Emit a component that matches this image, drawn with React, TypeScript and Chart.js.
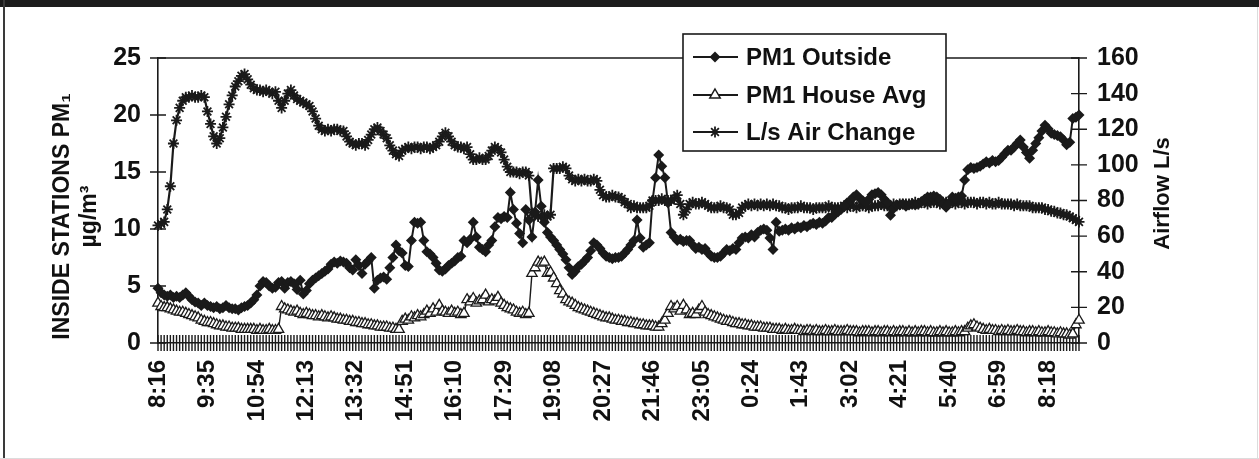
import React, { useEffect, useRef } from 'react';
import { Chart, registerables } from 'chart.js';

Chart.register(...registerables);

// ---- DATA ----
const timeLabels = ['8:16', '9:35', '10:54', '12:13', '13:32', '14:51', '16:10', '17:29', '19:08', '20:27', '21:46', '23:05', '0:24', '1:43', '3:02', '4:21', '5:40', '6:59', '8:18'];
const labelEvery = 16;

const leftTickValues = [0, 5, 10, 15, 20, 25];
const rightTickValues = [0, 20, 40, 60, 80, 100, 120, 140, 160];

// PM1 Outside (µg/m³) — left axis
const pm1Outside = [
  4.8, 4.4, 4.2, 4.1, 4.2, 4.0, 4.1, 4.0, 4.2, 4.4,
  4.1, 3.8, 3.6, 3.5, 3.3, 3.5, 3.3, 3.2, 3.1, 3.2,
  3.0, 3.1, 3.3, 3.1, 3.0, 3.0, 2.9, 3.1, 3.2, 3.3,
  3.5, 3.8, 4.2, 5.0, 5.4, 5.3, 5.0, 4.8, 4.9, 5.3,
  5.4, 4.8, 5.3, 5.4, 5.2, 4.7, 5.5, 4.3, 4.6, 5.2,
  5.5, 5.7, 5.9, 6.1, 6.3, 6.5, 6.9, 7.1, 7.0, 7.2,
  7.1, 7.0, 6.6, 6.4, 7.3, 6.8, 6.1, 6.9, 7.2, 7.5,
  4.8, 5.5, 5.7, 5.8, 5.6, 6.6, 7.5, 8.6, 8.1, 7.9,
  6.8, 6.7, 9.0, 10.6, 10.5, 10.6, 9.0, 8.0, 7.8, 7.5,
  7.0, 6.4, 6.3, 6.5, 6.8, 7.0, 7.2, 7.5, 7.6, 9.0,
  8.8, 9.1, 10.6, 9.3, 8.4, 8.2, 8.0, 8.6, 9.0, 10.2,
  11.0, 10.9, 11.1, 11.0, 13.2, 11.7, 10.5, 9.6, 8.8, 11.7,
  10.8, 9.3, 11.5, 14.3, 12.0, 10.6, 9.7, 9.3, 9.0, 8.6,
  8.2, 7.8, 7.3, 6.6, 6.0, 6.3, 6.7, 6.9, 7.2, 7.5,
  8.1, 8.8, 8.6, 8.3, 7.9, 7.6, 7.5, 7.4, 7.5, 7.5,
  7.6, 7.9, 8.2, 8.6, 9.0, 10.8, 9.2, 8.4, 8.6, 8.8,
  12.5, 14.5, 16.5, 15.5, 14.5, 12.3, 9.7, 9.3, 9.0, 9.1,
  8.9, 9.0, 9.0, 8.6, 8.3, 8.4, 8.2, 8.3, 7.9, 7.6,
  7.5, 7.5, 7.6, 7.9, 8.2, 8.1, 8.3, 8.2, 8.8, 9.2,
  9.3, 9.2, 9.5, 9.3, 9.7, 9.9, 10.0, 9.9, 9.2, 8.2,
  10.6, 9.8, 9.9, 10.0, 9.9, 10.1, 10.0, 10.2, 10.1, 10.3,
  10.2, 10.4, 10.5, 10.4, 10.6, 10.5, 10.7, 11.0, 11.0, 11.3,
  11.5, 11.7, 12.0, 12.3, 12.5, 12.8, 13.0, 12.7, 12.5, 12.3,
  12.6, 13.0, 13.1, 13.2, 13.0, 12.6, 12.3, 11.2, 11.8, 12.1,
  12.1, 12.2, 12.0, 12.1, 12.2, 12.1, 12.2, 12.4, 12.6, 12.8,
  12.8, 12.9, 12.8, 12.6, 12.2, 11.9, 12.3, 12.8, 12.7, 12.8,
  12.9, 14.3, 15.2, 15.4, 15.3, 15.4, 15.5, 15.7, 15.9, 15.8,
  16.0, 15.9, 16.0, 16.3, 16.6, 16.9, 16.9, 17.2, 17.5, 17.8,
  17.2, 16.7, 16.2, 16.9, 17.5, 18.0, 18.6, 19.1, 18.8, 18.4,
  18.3, 18.2, 18.1, 17.8, 17.4, 17.6, 19.7, 19.8, 20.0,
];

// PM1 House Avg (µg/m³) — left axis
const pm1HouseAvg = [
  3.5, 3.2, 3.1, 3.1, 3.0, 2.9, 2.8, 2.7, 2.7, 2.6,
  2.5, 2.4, 2.3, 2.2, 2.0, 1.9, 1.8, 1.8, 1.7, 1.6,
  1.5, 1.5, 1.4, 1.4, 1.3, 1.3, 1.3, 1.2, 1.2, 1.2,
  1.2, 1.2, 1.1, 1.2, 1.1, 1.1, 1.2, 1.1, 1.1, 1.2,
  3.2, 3.0, 2.9, 2.8, 2.7, 2.8, 2.6, 2.5, 2.6, 2.5,
  2.4, 2.4, 2.3, 2.4, 2.3, 2.2, 2.3, 2.2, 2.1, 2.1,
  2.0, 2.0, 1.9, 1.9, 1.8, 1.8, 1.7, 1.7, 1.6, 1.6,
  1.5, 1.5, 1.4, 1.4, 1.4, 1.3, 1.3, 1.2, 1.2, 1.9,
  2.1, 2.0, 2.3, 2.2, 2.4, 2.3, 2.5, 2.8, 2.6, 3.0,
  2.7, 3.3, 2.8, 2.7, 2.6, 2.8, 2.6, 2.7, 2.5, 2.6,
  3.8, 3.6, 3.9, 3.5, 3.7, 3.8, 4.2, 3.6, 3.8, 3.7,
  4.0, 3.5, 3.3, 3.1, 3.0, 2.9, 2.7, 2.6, 2.7, 2.5,
  2.6, 6.1, 6.6, 7.1, 7.0, 7.1, 6.1, 6.2, 5.7, 5.2,
  4.6, 4.3, 3.8, 3.6, 3.5, 3.3, 3.1, 3.0, 2.9, 2.8,
  2.7, 2.6, 2.5, 2.4, 2.3, 2.2, 2.2, 2.1, 2.0, 2.0,
  1.9, 1.9, 1.8, 1.8, 1.7, 1.7, 1.6, 1.6, 1.5, 1.5,
  1.5, 1.4, 1.4, 1.7, 2.0, 2.6, 3.2, 3.0, 3.2, 2.8,
  3.3, 2.9, 2.5, 2.6, 2.5, 2.9, 3.2, 2.7, 2.5, 2.4,
  2.3, 2.2, 2.1, 2.0, 1.9, 1.9, 1.8, 1.7, 1.7, 1.6,
  1.6, 1.5, 1.5, 1.4, 1.4, 1.4, 1.3, 1.3, 1.3, 1.2,
  1.2, 1.2, 1.1, 1.2, 1.1, 1.1, 1.2, 1.1, 1.1, 1.0,
  1.1, 1.1, 1.0, 1.1, 1.0, 1.0, 1.1, 1.0, 1.0, 1.1,
  1.0, 1.0, 1.0, 1.1, 1.0, 1.0, 1.0, 0.9, 1.0, 1.0,
  1.0, 0.9, 1.0, 1.0, 0.9, 1.0, 1.0, 0.9, 1.0, 0.9,
  1.0, 1.0, 0.9, 1.0, 0.9, 1.0, 0.9, 1.0, 1.0, 0.9,
  1.0, 0.9, 0.9, 1.0, 0.9, 1.0, 0.9, 0.9, 1.0, 0.9,
  1.0, 1.0, 1.3, 1.5, 1.6, 1.4, 1.3, 1.2, 1.1, 1.2,
  1.1, 1.1, 1.0, 1.1, 1.0, 1.1, 1.0, 1.0, 1.1, 1.0,
  1.0, 0.9, 1.0, 1.0, 0.9, 1.0, 0.9, 0.9, 1.0, 0.9,
  0.9, 0.8, 0.9, 0.8, 0.8, 0.7, 0.8, 1.6, 2.0,
];

// L/s Air Change — right axis
const airChange = [
  66, 67, 68, 75, 88, 112, 125, 132, 136, 138,
  138, 139, 138, 138, 139, 138, 130, 123, 116, 112,
  115, 121, 127, 134, 139, 144, 147, 150, 151, 148,
  145, 143, 142, 142, 141, 142, 141, 140, 141, 136,
  132, 136, 140, 142, 139, 137, 136, 135, 134, 133,
  130, 126, 122, 120, 119, 120, 119, 120, 120, 119,
  119, 116, 113, 112, 111, 112, 112, 111, 114, 117,
  120, 121, 119, 117, 115, 111, 108, 106, 105, 108,
  109, 110, 109, 110, 110, 109, 110, 110, 109, 110,
  111, 113, 116, 118, 116, 113, 111, 110, 110, 109,
  110, 106, 103, 103, 104, 103, 103, 105, 108, 110,
  109, 107, 103, 99, 96, 96, 96, 95, 96, 96,
  94, 73, 72, 71, 71, 72, 71, 72, 98, 98,
  98, 99, 98, 94, 92, 91, 92, 91, 92, 91,
  91, 92, 91, 86, 83, 82, 82, 83, 82, 82,
  81, 79, 78, 76, 77, 76, 76, 76, 76, 77,
  80, 80, 80, 81, 80, 80, 80, 81, 83, 78,
  72, 75, 78, 79, 78, 78, 79, 78, 77, 76,
  76, 76, 77, 76, 76, 75, 72, 72, 73, 76,
  77, 78, 77, 78, 77, 78, 77, 78, 77, 78,
  77, 77, 76, 76, 75, 76, 76, 76, 77, 76,
  76, 76, 75, 76, 76, 76, 76, 77, 76, 76,
  76, 76, 77, 76, 77, 77, 76, 77, 77, 77,
  76, 77, 77, 77, 78, 77, 77, 77, 78, 77,
  78, 78, 78, 78, 78, 79, 78, 79, 79, 78,
  79, 79, 79, 78, 79, 79, 79, 79, 78, 79,
  79, 78, 79, 79, 79, 78, 79, 79, 78, 79,
  78, 78, 79, 78, 78, 78, 78, 77, 78, 77,
  77, 77, 77, 76, 76, 76, 76, 75, 75, 74,
  74, 73, 73, 72, 72, 71, 70, 69, 68,
];

const seriesNames = ['PM1 Outside', 'PM1 House Avg', 'L/s Air Change'];
const leftTitle = ['INSIDE STATIONS PM\u2081', '\u00b5g/m\u00b3'];
const rightTitle = 'Airflow L/s';

// ---- STYLE ----
const INK = '#1a1a1a';
const FONT = '"Liberation Sans", Arial, Helvetica, sans-serif';

const categoryLabels = airChange.map((_, i) => (i % labelEvery === 0 ? timeLabels[i / labelEvery] ?? '' : ''));

function drawMarker(ctx: CanvasRenderingContext2D, kind: string, x: number, y: number) {
  ctx.save();
  ctx.strokeStyle = INK;
  ctx.fillStyle = INK;
  ctx.lineWidth = 1.5;
  if (kind === 'diamond') {
    const r = 5.5;
    ctx.beginPath();
    ctx.moveTo(x, y - r); ctx.lineTo(x + r, y); ctx.lineTo(x, y + r); ctx.lineTo(x - r, y);
    ctx.closePath(); ctx.fill();
  } else if (kind === 'triangle') {
    const r = 6;
    ctx.beginPath();
    ctx.moveTo(x, y - r); ctx.lineTo(x + r * 0.866, y + r * 0.5); ctx.lineTo(x - r * 0.866, y + r * 0.5);
    ctx.closePath(); ctx.fillStyle = '#fff'; ctx.fill(); ctx.stroke();
  } else {
    const r = 5.5;
    ctx.lineWidth = 1.8;
    ctx.beginPath();
    for (let k = 0; k < 4; k++) {
      const a = (k * Math.PI) / 4;
      ctx.moveTo(x - Math.cos(a) * r, y - Math.sin(a) * r);
      ctx.lineTo(x + Math.cos(a) * r, y + Math.sin(a) * r);
    }
    ctx.stroke();
  }
  ctx.restore();
}

const framePlugin = {
  id: 'frame',
  beforeDraw(chart: any) {
    const { ctx, width, height } = chart;
    ctx.save();
    ctx.fillStyle = '#ffffff';
    ctx.fillRect(0, 0, width, height);
    ctx.fillStyle = '#1c1c1c';
    ctx.fillRect(0, 0, width, 7);
    ctx.fillStyle = '#3a3a3a';
    ctx.fillRect(3, 0, 2, height);
    ctx.fillStyle = '#dcdcdc';
    ctx.fillRect(width - 2, 7, 1, height - 7);
    ctx.fillRect(0, height - 1, width, 1);
    ctx.restore();
  },
  beforeDatasetsDraw(chart: any) {
    const { ctx, chartArea } = chart;
    const { x, y, y1 } = chart.scales;
    ctx.save();
    ctx.strokeStyle = INK;
    ctx.lineWidth = 1.6;
    ctx.beginPath();
    ctx.moveTo(chartArea.left, chartArea.top);
    ctx.lineTo(chartArea.right, chartArea.top);
    ctx.stroke();
    ctx.lineWidth = 1.4;
    ctx.beginPath();
    x.ticks.forEach((_: any, i: number) => {
      const px = x.getPixelForTick(i);
      ctx.moveTo(px, chartArea.bottom - 8);
      ctx.lineTo(px, chartArea.bottom + 8);
    });
    y.ticks.forEach((_: any, i: number) => {
      const py = y.getPixelForTick(i);
      ctx.moveTo(chartArea.left - 8, py);
      ctx.lineTo(chartArea.left + 8, py);
    });
    y1.ticks.forEach((_: any, i: number) => {
      const py = y1.getPixelForTick(i);
      ctx.moveTo(chartArea.right - 8, py);
      ctx.lineTo(chartArea.right + 8, py);
    });
    ctx.stroke();
    ctx.restore();
  },
  afterDraw(chart: any) {
    const { ctx, chartArea } = chart;
    const { y, y1 } = chart.scales;
    ctx.save();
    ctx.fillStyle = '#111';
    ctx.textAlign = 'center';
    ctx.textBaseline = 'middle';
    // left axis title (two lines, reading bottom to top)
    ctx.font = `bold 23px ${FONT}`;
    const cy = (chartArea.top + chartArea.bottom) / 2 + 16;
    const lineX = [y.left + 63, y.left + 90];
    leftTitle.forEach((t, i) => {
      ctx.save();
      ctx.translate(lineX[i], cy);
      ctx.rotate(-Math.PI / 2);
      ctx.fillText(t, 0, 0);
      ctx.restore();
    });
    // right axis title
    ctx.font = `bold 22px ${FONT}`;
    ctx.save();
    ctx.translate(y1.left + 84, (chartArea.top + chartArea.bottom) / 2 - 7);
    ctx.rotate(-Math.PI / 2);
    ctx.fillText(rightTitle, 0, 0);
    ctx.restore();

    // legend box
    const bx = 683, by = 34, bw = 263, bh = 117;
    ctx.fillStyle = '#fff';
    ctx.fillRect(bx, by, bw, bh);
    ctx.strokeStyle = INK;
    ctx.lineWidth = 1.6;
    ctx.strokeRect(bx, by, bw, bh);
    const kinds = ['diamond', 'triangle', 'star'];
    const rows = [57, 95, 132];
    ctx.font = `bold 24px ${FONT}`;
    ctx.textAlign = 'left';
    seriesNames.forEach((name, i) => {
      const ry = rows[i];
      ctx.strokeStyle = INK;
      ctx.lineWidth = 2;
      ctx.beginPath();
      ctx.moveTo(bx + 10, ry);
      ctx.lineTo(bx + 55, ry);
      ctx.stroke();
      drawMarker(ctx, kinds[i], bx + 32, ry);
      ctx.fillStyle = '#111';
      ctx.fillText(name, bx + 63, ry + 1);
    });
    ctx.restore();
  },
};

export default function App() {
  const ref = useRef<HTMLCanvasElement | null>(null);

  useEffect(() => {
    if (!ref.current) return;
    const yTickFont = { family: FONT, size: 25, weight: 'bold' as const };
    const xTickFont = { family: FONT, size: 24, weight: 'bold' as const };
    const chart = new Chart(ref.current, {
      type: 'line',
      data: {
        labels: categoryLabels,
        datasets: [
          {
            label: seriesNames[0],
            data: pm1Outside,
            yAxisID: 'y',
            borderColor: INK,
            backgroundColor: INK,
            borderWidth: 2,
            pointStyle: 'rectRot',
            pointRadius: 5.5,
            pointBorderWidth: 0,
            pointBackgroundColor: INK,
            tension: 0,
            clip: false as any,
          },
          {
            label: seriesNames[1],
            data: pm1HouseAvg,
            yAxisID: 'y',
            borderColor: INK,
            backgroundColor: '#fff',
            borderWidth: 1.4,
            pointStyle: 'triangle',
            pointRadius: 6,
            pointBorderWidth: 1.3,
            pointBorderColor: INK,
            pointBackgroundColor: '#fff',
            tension: 0,
            clip: false as any,
          },
          {
            label: seriesNames[2],
            data: airChange,
            yAxisID: 'y1',
            borderColor: INK,
            backgroundColor: INK,
            borderWidth: 2.2,
            pointStyle: 'star',
            pointRadius: 5.5,
            pointBorderWidth: 1.8,
            pointBorderColor: INK,
            tension: 0,
            clip: false as any,
          },
        ],
      },
      options: {
        responsive: false,
        animation: false,
        devicePixelRatio: 1,
        layout: { padding: { top: 58, left: 0, right: 0, bottom: 0 } },
        plugins: { legend: { display: false }, tooltip: { enabled: false }, title: { display: false } },
        scales: {
          x: {
            type: 'category',
            offset: false,
            grid: { display: false, drawTicks: false },
            border: { display: true, color: INK, width: 1.6 },
            ticks: {
              autoSkip: false,
              maxRotation: 90,
              minRotation: 90,
              padding: 17,
              color: '#111',
              font: xTickFont,
              callback: (_v: any, i: number) => categoryLabels[i],
            },
            afterFit: (s: any) => { s.height = 116; },
          },
          y: {
            position: 'left',
            min: 0,
            max: 25,
            afterBuildTicks: (s: any) => { s.ticks = leftTickValues.map((v) => ({ value: v })); },
            grid: { display: false, drawTicks: false },
            border: { display: true, color: INK, width: 1.6 },
            ticks: { padding: 17, color: '#111', font: yTickFont },
            afterFit: (s: any) => { s.width = 158; },
          },
          y1: {
            position: 'right',
            min: 0,
            max: 160,
            afterBuildTicks: (s: any) => { s.ticks = rightTickValues.map((v) => ({ value: v })); },
            grid: { display: false, drawTicks: false },
            border: { display: true, color: INK, width: 1.6 },
            ticks: { padding: 18, color: '#111', font: yTickFont },
            afterFit: (s: any) => { s.width = 180; },
          },
        },
      },
      plugins: [framePlugin],
    } as any);
    return () => chart.destroy();
  }, []);

  return (
    <div style={{ position: 'fixed', left: 0, top: 0, width: 1259, height: 459, background: '#fff' }}>
      <canvas ref={ref} width={1259} height={459} style={{ display: 'block', width: 1259, height: 459 }} />
    </div>
  );
}
